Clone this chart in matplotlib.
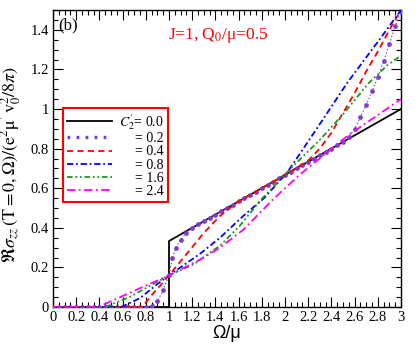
import matplotlib
matplotlib.use('Agg')
import matplotlib.pyplot as plt
from matplotlib.lines import Line2D
from matplotlib.ticker import MultipleLocator, FuncFormatter

plt.rcParams['font.family'] = ['Liberation Serif', 'DejaVu Serif']
plt.rcParams['mathtext.fontset'] = 'stix'
plt.rcParams['lines.scale_dashes'] = False

# ---- data ----
c00_x = [0.0, 1.0, 1.0, 2.0, 3.0]
c00_y = [0.0, 0.0, 0.333, 0.667, 1.0]

c02_x = [0.00, 0.05, 0.10, 0.15, 0.20, 0.25, 0.30, 0.35, 0.40, 0.45, 0.50, 0.55,
         0.60, 0.65, 0.70, 0.75, 0.80, 0.85, 0.90, 0.95, 1.00, 1.03, 1.06, 1.10,
         1.15, 1.20, 1.25, 1.30, 1.35, 1.40, 1.45, 1.50, 1.55, 1.60, 1.65, 1.70,
         1.75, 1.80, 1.85, 1.90, 1.95, 2.00, 2.05, 2.10, 2.15, 2.20, 2.25, 2.30,
         2.35, 2.40, 2.45, 2.50, 2.55, 2.60, 2.65, 2.70, 2.75, 2.80, 2.85, 2.90,
         2.95, 3.00]
c02_y = [0, 0, 0, 0, 0, 0, 0, 0, 0, 0, 0, 0,
         0, 0, 0, 0, 0, 0.005, 0.03, 0.085, 0.16, 0.25, 0.30, 0.34,
         0.375, 0.40, 0.417, 0.433, 0.45, 0.467, 0.483, 0.50, 0.517, 0.533, 0.55, 0.567,
         0.583, 0.60, 0.617, 0.633, 0.65, 0.667, 0.683, 0.70, 0.717, 0.733, 0.75, 0.767,
         0.783, 0.80, 0.817, 0.833, 0.86, 0.90, 0.96, 1.02, 1.09, 1.16, 1.24, 1.33,
         1.42, 1.49]

c04_x = [0.0, 0.77, 0.85, 0.92, 1.0, 1.155, 1.30, 1.44, 1.59, 1.8, 2.0, 2.2,
         2.3, 2.4, 2.5, 2.6, 2.7, 2.8, 2.9, 3.0]
c04_y = [0.0, 0.0, 0.06, 0.105, 0.16, 0.27, 0.374, 0.46, 0.53, 0.60, 0.667, 0.74,
         0.80, 0.88, 0.98, 1.08, 1.19, 1.29, 1.40, 1.50]

c08_x = [0.0, 0.59, 0.75, 0.92, 1.0, 1.27, 1.44, 1.64, 1.82, 2.02, 2.25, 2.54, 2.82, 3.0]
c08_y = [0.0, 0.0, 0.045, 0.125, 0.16, 0.27, 0.35, 0.46, 0.55, 0.68, 0.88, 1.135, 1.355, 1.50]

c16_x = [0.0, 0.45, 0.66, 1.0, 1.21, 1.44, 1.61, 1.79, 2.05, 2.31, 2.51, 2.72, 2.88, 3.0]
c16_y = [0.0, 0.0, 0.05, 0.16, 0.215, 0.31, 0.41, 0.54, 0.70, 0.85, 0.98, 1.13, 1.22, 1.27]

c24_x = [0.0, 0.39, 0.75, 1.0, 1.27, 1.44, 1.64, 1.9, 2.13, 2.54, 3.0]
c24_y = [0.0, 0.0, 0.095, 0.16, 0.24, 0.30, 0.39, 0.545, 0.67, 0.865, 1.05]

legend_labels = [r"$C_2'$= 0.0", "= 0.2", "= 0.4", "= 0.8", "= 1.6", "= 2.4"]
x_ticks = [0, 0.2, 0.4, 0.6, 0.8, 1, 1.2, 1.4, 1.6, 1.8, 2, 2.2, 2.4, 2.6, 2.8, 3]
y_ticks = [0, 0.2, 0.4, 0.6, 0.8, 1, 1.2, 1.4]

PURPLE = '#7d3dcc'
GREEN = '#1e961e'

fig = plt.figure(figsize=(4.15, 3.46), dpi=100)
ax = fig.add_axes([53/415, 1-307/346, 348/415, 297/346])

ax.plot(c00_x, c00_y, color='black', lw=1.3, zorder=3)
ax.plot(c02_x, c02_y, color=PURPLE, lw=0.8, linestyle=(0, (1, 1.5)),
        marker='o', ms=2.4, mec=PURPLE, mfc=PURPLE, zorder=4)
ax.plot(c04_x, c04_y, color='red', lw=1.3, linestyle=(0, (4.5, 3)), zorder=4)
ax.plot(c08_x, c08_y, color='blue', lw=1.3, linestyle=(0, (4.5, 2, 1.3, 2)), zorder=4)
ax.plot(c16_x, c16_y, color=GREEN, lw=1.3, linestyle=(0, (4, 2, 1.3, 2, 1.3, 2)), zorder=4)
ax.plot(c24_x, c24_y, color='magenta', lw=1.3, linestyle=(0, (6, 2.5, 1.3, 2.5)), zorder=4)

ax.set_xlim(0, 3)
ax.set_ylim(0, 1.5)
ax.set_xticks(x_ticks)
ax.set_yticks(y_ticks)
ax.xaxis.set_minor_locator(MultipleLocator(0.05))
ax.yaxis.set_minor_locator(MultipleLocator(0.05))
fmt = FuncFormatter(lambda v, p: f"{round(v, 2):g}")
ax.xaxis.set_major_formatter(fmt)
ax.yaxis.set_major_formatter(fmt)
ax.tick_params(which='both', direction='in', top=True, right=True, width=0.8,
               labelsize=10.5)
ax.tick_params(which='major', length=7.5, pad=3)
ax.tick_params(which='minor', length=3.6)
for s in ax.spines.values():
    s.set_linewidth(1.0)

ax.set_xlabel("\u03a9/\u03bc", fontsize=13, family=['Liberation Sans', 'DejaVu Sans'])
ax.xaxis.set_label_coords(0.5, -0.062)
ax.set_ylabel(r"$\Re\sigma_{zz}\,(\mathrm{T}=0,\Omega)/(\mathrm{e}^2\mathrm{\mu}'\,\mathrm{v}_0^2/8\pi)$",
              fontsize=13)
ax.yaxis.set_label_coords(-0.085, 0.48)

ax.text(0.015, 0.975, "(b)", transform=ax.transAxes, fontsize=12, va='top', ha='left')
ax.text(0.99, 1.355, "J=1, Q$_0$/\u03bc=0.5", color='red', fontsize=12.5,
        ha='left', va='baseline')

handles = [
    Line2D([], [], color='black', lw=1.3),
    Line2D([], [], color=PURPLE, lw=2.4, linestyle=(0, (2, 4.5)), dash_capstyle='butt'),
    Line2D([], [], color='red', lw=1.3, linestyle=(0, (4.5, 3))),
    Line2D([], [], color='blue', lw=1.3, linestyle=(0, (4.5, 2, 1.3, 2))),
    Line2D([], [], color=GREEN, lw=1.3, linestyle=(0, (4, 2, 1.3, 2, 1.3, 2))),
    Line2D([], [], color='magenta', lw=1.3, linestyle=(0, (6, 2.5, 1.3, 2.5))),
]
leg = ax.legend(handles, legend_labels, loc='upper left',
                bbox_to_anchor=(10/348, (307-108)/297), fontsize=10,
                handlelength=3.2, handletextpad=0.5, labelspacing=0.02,
                borderpad=0.3, borderaxespad=0, fancybox=False, framealpha=1)
leg.get_frame().set_edgecolor('red')
leg.get_frame().set_linewidth(1.5)

# right-align legend texts
fig.canvas.draw()
r = fig.canvas.get_renderer()
texts = leg.get_texts()
widths = [t.get_window_extent(r).width for t in texts]
wmax = max(widths)
for t, w in zip(texts, widths):
    t.set_x(wmax - w)

fig.savefig('out.png', dpi=100)
